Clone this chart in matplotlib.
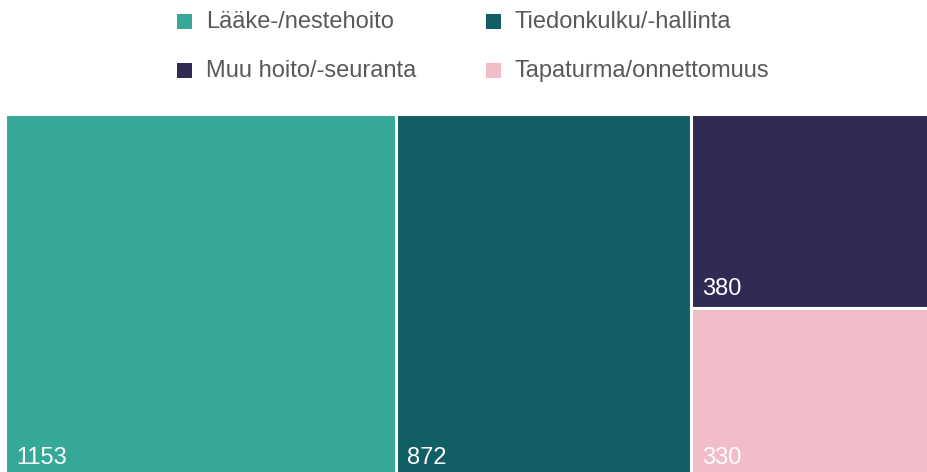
import matplotlib
matplotlib.use('Agg')
import matplotlib.pyplot as plt
from matplotlib.patches import Rectangle

plt.rcParams['font.family'] = ['Liberation Sans', 'DejaVu Sans']

categories = ['Lääke-/nestehoito', 'Tiedonkulku/-hallinta', 'Muu hoito/-seuranta', 'Tapaturma/onnettomuus']
values = [1153, 872, 380, 330]
colors = ['#36a898', '#125e65', '#302b55', '#f0bdc8']

W, H = 927, 472
fig = plt.figure(figsize=(W / 100, H / 100), dpi=100)
ax = fig.add_axes([0, 0, 1, 1])
ax.set_xlim(0, W)
ax.set_ylim(H, 0)
ax.axis('off')

# treemap area in pixels (runs a little past the right and bottom edges)
x0, x1, y0, y1 = 5.5, 932, 113.5, 477
total = sum(values)
width = x1 - x0

rects = []
cx = x0
for v in values[:2]:
    w = v / total * width
    rects.append((cx, y0, w, y1 - y0))
    cx += w
rest = sum(values[2:])
w = rest / total * width
cy = y0
for v in values[2:]:
    h = v / rest * (y1 - y0)
    rects.append((cx, cy, w, h))
    cy += h

for (rx, ry, rw, rh), v, c in zip(rects, values, colors):
    ax.add_patch(Rectangle((rx, ry), rw, rh, facecolor=c, edgecolor='white', linewidth=2.2))
    ax.text(rx + 11, ry + rh - 13, str(v), color='white', fontsize=17,
            ha='left', va='baseline')

# legend
leg_pos = [(177, 21), (486, 21), (177, 70), (486, 70)]
for (lx, ly), name, c in zip(leg_pos, categories, colors):
    ax.add_patch(Rectangle((lx, ly - 7.5), 15, 15, facecolor=c, edgecolor='none'))
    ax.text(lx + 29, ly + 1, name, color='#595959', fontsize=17, ha='left', va='center')

fig.savefig('out.png', dpi=100)
